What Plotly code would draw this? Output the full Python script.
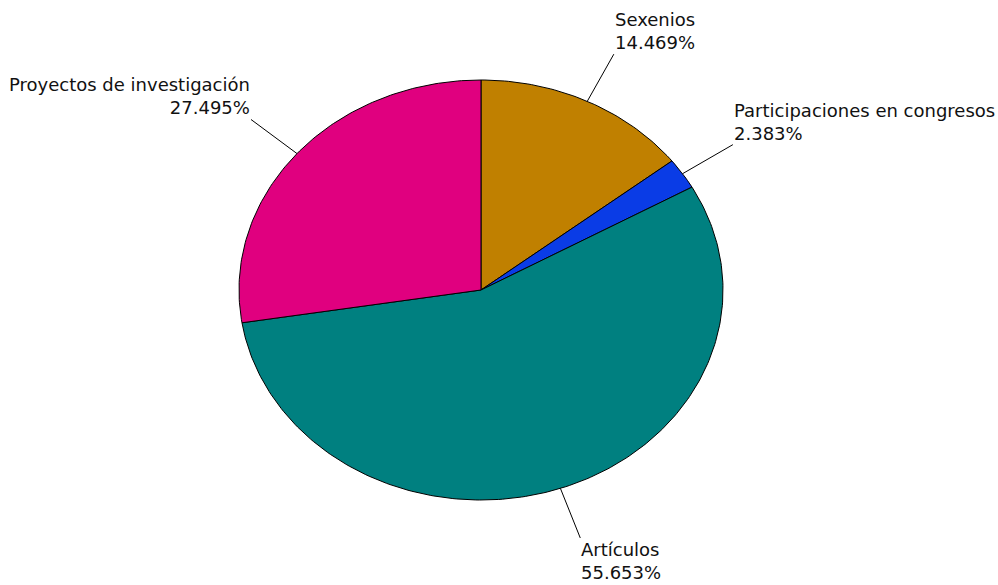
import numpy as np
import plotly.graph_objects as go

labels = ["Sexenios", "Participaciones en congresos", "Artículos", "Proyectos de investigación"]
percentages = [14.469, 2.383, 55.653, 27.495]
colors = ["#C08000", "#0A3CE6", "#008080", "#E0007F"]

FONT = dict(family="DejaVu Sans", size=18, color="#111111")

W, H = 998, 585
CX, CY = 481, 290
RX, RY = 242, 210

fig = go.Figure()
total = sum(percentages)
start = 0.0
annotations = []
for lab, val, col in zip(labels, percentages, colors):
    a0 = start / total * 2 * np.pi
    a1 = (start + val) / total * 2 * np.pi
    n = max(4, int(val * 4))
    t = np.linspace(a0, a1, n)
    xs = np.concatenate([[0], np.sin(t), [0]])
    ys = np.concatenate([[0], np.cos(t), [0]])
    fig.add_trace(go.Scatter(x=xs, y=ys, mode="lines", fill="toself", fillcolor=col,
                             line=dict(color="black", width=1), hoverinfo="skip",
                             showlegend=False))
    tm = (a0 + a1) / 2
    sx, cy = np.sin(tm), np.cos(tm)
    fig.add_trace(go.Scatter(x=[sx, 1.25 * sx], y=[cy, 1.25 * cy], mode="lines",
                             line=dict(color="black", width=1), hoverinfo="skip",
                             showlegend=False))
    xa = "left" if sx > 0 else "right"
    ya = "bottom" if cy > 0 else "top"
    annotations.append(dict(x=1.25 * sx, y=1.25 * cy, xref="x", yref="y",
                            text=f"{lab}<br>{val:.3f}%", showarrow=False,
                            xanchor=xa, yanchor=ya, align=xa, font=FONT,
                            borderpad=0))
    start += val

fig.update_layout(
    width=W, height=H,
    margin=dict(l=0, r=0, t=0, b=0),
    paper_bgcolor="white", plot_bgcolor="white",
    xaxis=dict(range=[-CX / RX, (W - CX) / RX], visible=False, fixedrange=True),
    yaxis=dict(range=[-(H - CY) / RY, CY / RY], visible=False, fixedrange=True),
    annotations=annotations,
    showlegend=False,
)
fig.write_html("out.html", config={"displayModeBar": False},
               post_script="document.body.style.margin='0';document.body.style.overflow='hidden';")
